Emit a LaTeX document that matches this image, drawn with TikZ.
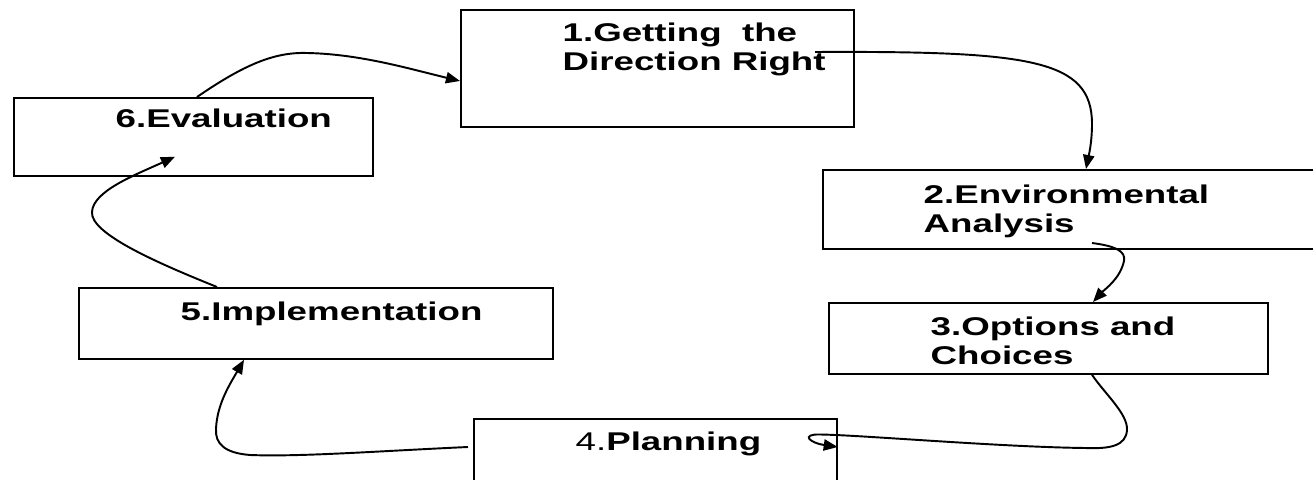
\documentclass[tikz,border=0pt]{standalone}
\usepackage{fontspec}
\setmainfont{Liberation Sans}[FakeStretch=1.43]
\usetikzlibrary{arrows.meta}
\tikzset{
  stage/.style={draw=black,line width=0.5pt,inner sep=0pt,anchor=north west},
  stagetext/.style={anchor=base west,inner sep=0pt,align=left,
    font=\fontsize{7.3pt}{8.1pt}\selectfont\bfseries},
  flow/.style={draw=black,line width=0.55pt,-{Triangle[length=4pt,width=3.2pt]}}
}

\begin{document}
\begin{tikzpicture}[x=1cm,y=1cm]
\path[use as bounding box] (0,0) rectangle (13.13,4.79);
% boxes
\node[stage,minimum width=3.93cm,minimum height=1.17cm] (direction) at (4.60,4.70) {};
\node[stage,minimum width=5.10cm,minimum height=0.79cm] (environ) at (8.22,3.10) {};
\node[stage,minimum width=4.39cm,minimum height=0.71cm] (options) at (8.28,1.77) {};
\node[stage,minimum width=3.63cm,minimum height=0.80cm] (planning) at (4.73,0.61) {};
\node[stage,minimum width=4.74cm,minimum height=0.71cm] (implement) at (0.78,1.92) {};
\node[stage,minimum width=3.59cm,minimum height=0.78cm] (evaluation) at (0.13,3.82) {};
% texts (base = last line)
\node[stagetext] (direction-t) at (5.62,4.09) {1.Getting\ \ the\\Direction Right};
\node[stagetext] (environ-t) at (9.23,2.47) {2.Environmental\\Analysis};
\node[stagetext] (options-t) at (9.30,1.15) {3.Options and\\Choices};
\node[stagetext] (planning-t) at (5.75,0.29) {{\mdseries 4.}Planning};
\node[stagetext] (implement-t) at (1.80,1.59) {5.Implementation};
\node[stagetext] (evaluation-t) at (1.15,3.51) {6.Evaluation};
% connectors
\draw[flow] ([xshift=3.55cm,yshift=-0.43cm]direction.north west)
  .. controls (10.3,4.28) and (10.92,4.2) .. (10.92,3.55)
  .. controls (10.92,3.35) and (10.88,3.2) .. ([xshift=2.64cm]environ.north west);
\draw[flow] ([xshift=2.70cm,yshift=-0.74cm]environ.north west)
  .. controls (11.15,2.33) and (11.26,2.28) .. (11.24,2.18)
  .. controls (11.2,2.0) and (11.05,1.9) .. ([xshift=2.65cm]options.north west);
\draw[flow] ([xshift=2.64cm]options.south west)
  .. controls (11.05,0.85) and (11.28,0.65) .. (11.27,0.49)
  .. controls (11.26,0.33) and (11.1,0.30) .. (10.85,0.31)
  .. controls (10.0,0.32) and (8.6,0.44) .. (8.2,0.445)
  .. controls (8.0,0.45) and (8.1,0.36) .. ([yshift=-0.29cm]planning.north east);
\draw[flow] ([xshift=-0.05cm,yshift=-0.29cm]planning.north west)
  .. controls (3.8,0.28) and (3.0,0.22) .. (2.5,0.24)
  .. controls (2.25,0.26) and (2.15,0.35) .. (2.16,0.5)
  .. controls (2.17,0.75) and (2.3,0.95) .. ([xshift=1.66cm]implement.south west);
\draw[flow] ([xshift=1.39cm]implement.north west)
  .. controls (1.6,2.15) and (0.9,2.45) .. (0.92,2.67)
  .. controls (0.93,2.88) and (1.35,3.04) .. ([xshift=1.62cm,yshift=0.2cm]evaluation.south west);
\draw[flow] ([xshift=1.84cm]evaluation.north west)
  .. controls (2.45,4.15) and (2.75,4.27) .. (3.07,4.26)
  .. controls (3.6,4.25) and (4.1,4.1) .. ([yshift=-0.72cm]direction.north west);
\end{tikzpicture}
\end{document}
